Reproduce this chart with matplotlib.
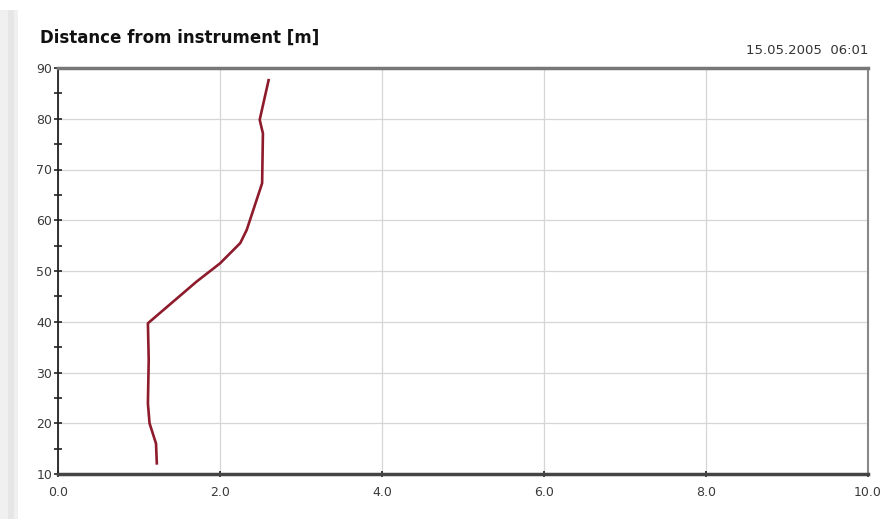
import matplotlib
matplotlib.use("Agg")
import matplotlib.pyplot as plt
from matplotlib.patches import Rectangle

# Data: distance from instrument [m] vs value
values = [2.60, 2.49, 2.53, 2.52, 2.33, 2.25, 2.00, 1.71, 1.11, 1.12, 1.11, 1.13, 1.21, 1.22]
distance = [87.6, 79.8, 77.1, 67.3, 58.1, 55.5, 51.5, 47.9, 39.7, 32.5, 23.9, 20.0, 16.0, 12.1]
x_ticks = [0, 2, 4, 6, 8, 10]
x_labels = ["0.0", "2.0", "4.0", "6.0", "8.0", "10.0"]
y_ticks = [10, 20, 30, 40, 50, 60, 70, 80, 90]
y_minor = [15, 25, 35, 45, 55, 65, 75, 85]
title = "Distance from instrument [m]"
stamp = "15.05.2005  06:01"

W, H = 889, 519
fig = plt.figure(figsize=(W / 100, H / 100), dpi=100)
fig.patch.set_facecolor("white")

# left grey strip
fig.patches.append(Rectangle((0, 0), 18 / W, (H - 10) / H, transform=fig.transFigure,
                             facecolor="#f0f0f0", edgecolor="none", zorder=0))
fig.patches.append(Rectangle((8 / W, 0), 6 / W, (H - 10) / H, transform=fig.transFigure,
                             facecolor="#e6e6e6", edgecolor="none", zorder=0))

ax = fig.add_axes([58 / W, (H - 474) / H, (868 - 58) / W, (474 - 68) / H])
ax.set_facecolor("white")

ax.plot(values, distance, color="#8e1b2c", lw=1.9, solid_joinstyle="round", zorder=3)

ax.set_xlim(0, 10)
ax.set_ylim(10, 90)
ax.set_xticks(x_ticks)
ax.set_xticklabels(x_labels)
ax.set_yticks(y_ticks)
ax.set_yticks(y_minor, minor=True)

ax.grid(True, which="major", color="#d6d6d6", lw=0.9, zorder=0)
ax.set_axisbelow(True)

for side in ["top", "bottom"]:
    ax.spines[side].set_color("#777777")
    ax.spines[side].set_linewidth(2.5)
ax.spines["bottom"].set_color("#444444")
ax.spines["right"].set_color("#888888")
ax.spines["right"].set_linewidth(1.5)
ax.spines["left"].set_color("#222222")
ax.spines["left"].set_linewidth(1.3)

ax.tick_params(axis="both", which="both", direction="inout", color="#222222",
               labelcolor="#3a3a3a", labelsize=9)
ax.tick_params(axis="y", which="major", length=6, width=1.2, pad=1)
ax.tick_params(axis="y", which="minor", length=6, width=1.2)
ax.tick_params(axis="x", which="major", length=5, width=1.2, pad=6)

fig.text(40 / W, 1 - 38 / H, title, fontsize=12, fontweight="bold",
         ha="left", va="center", color="#111111")
fig.text(868 / W, 1 - 50 / H, stamp, fontsize=9.5, ha="right", va="center",
         color="#333333")

fig.savefig("out.png", dpi=100, facecolor="white")
